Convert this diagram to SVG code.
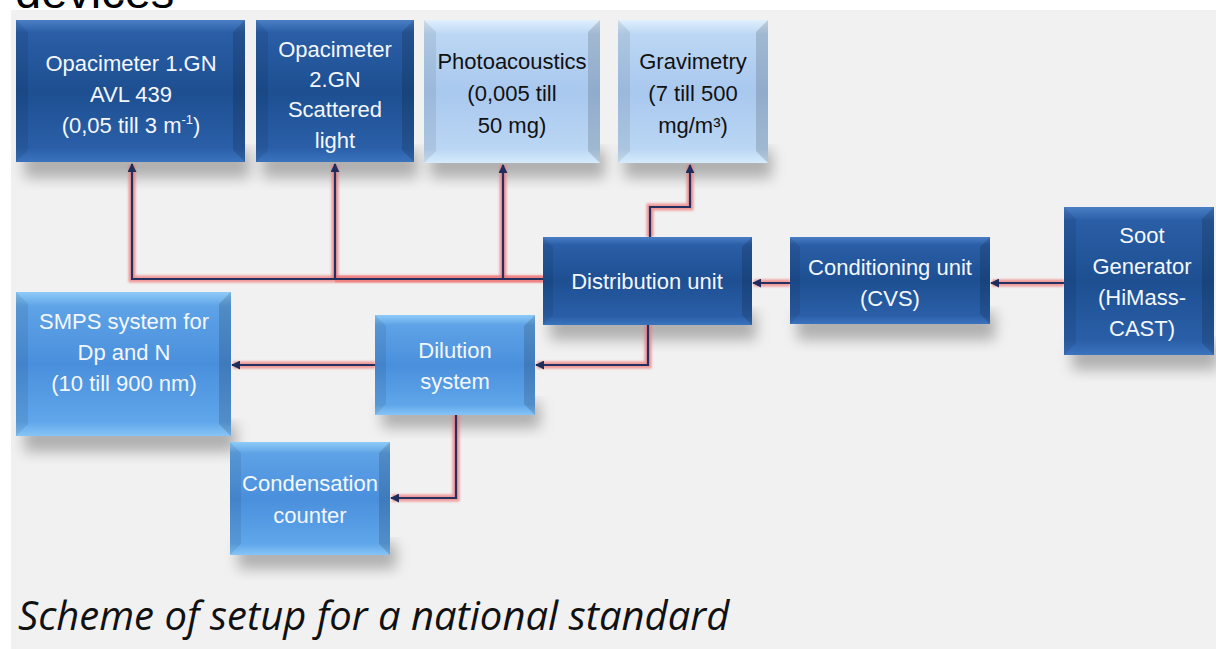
<svg xmlns="http://www.w3.org/2000/svg" width="1216" height="649" viewBox="0 0 1216 649">
<defs>
<style>
.t{font-family:"Liberation Sans",Arial,sans-serif;font-size:22px;text-anchor:middle}
.w{fill:#f4f7ff}
.k{fill:#111}
.halo{fill:none;stroke:#f07a7a;stroke-width:7;stroke-opacity:.75;stroke-linejoin:miter}
.core{fill:none;stroke:#233060;stroke-width:2.2}
.sh{fill:#7a7a7a;opacity:.55}
.sideL{fill:#000;opacity:.08}
.sideR{fill:#000;opacity:.14}
</style>
<linearGradient id="gDark" x1="0" y1="0" x2="0" y2="1">
<stop offset="0" stop-color="#4a7fc6"/><stop offset=".09" stop-color="#2a5ea6"/><stop offset=".5" stop-color="#1d4f91"/><stop offset=".9" stop-color="#2a5fa8"/><stop offset="1" stop-color="#3b73bd"/>
</linearGradient>
<linearGradient id="gMed" x1="0" y1="0" x2="0" y2="1">
<stop offset="0" stop-color="#8ecbf8"/><stop offset=".1" stop-color="#5ea3e6"/><stop offset=".5" stop-color="#4a8fdc"/><stop offset=".9" stop-color="#5fa6ea"/><stop offset="1" stop-color="#86c4f6"/>
</linearGradient>
<linearGradient id="gLight" x1="0" y1="0" x2="0" y2="1">
<stop offset="0" stop-color="#e0f0fd"/><stop offset=".1" stop-color="#bcd7f4"/><stop offset=".5" stop-color="#a9c8ee"/><stop offset=".9" stop-color="#bad6f4"/><stop offset="1" stop-color="#d6ebfc"/>
</linearGradient>
<filter id="blur" x="-20%" y="-20%" width="140%" height="160%"><feGaussianBlur stdDeviation="7"/></filter>
<filter id="hblur" x="-5%" y="-5%" width="110%" height="110%"><feGaussianBlur stdDeviation="1.2"/></filter>
<marker id="ah" viewBox="0 0 10 10" refX="9" refY="5" markerWidth="9" markerHeight="9" markerUnits="userSpaceOnUse" orient="auto">
<path d="M0,0 L10,5 L0,10 z" fill="#1e2d5c"/>
</marker>
</defs>

<rect x="0" y="0" width="1216" height="649" fill="#ffffff"/>
<rect x="11" y="10" width="1205" height="639" fill="#f1f1f1"/>
<text x="15" y="8" font-family="Liberation Sans,Arial,sans-serif" font-size="47" fill="#000">devices</text>

<g id="shadows">
<rect class="sh" x="24" y="150" width="226" height="28" filter="url(#blur)"/>
<rect class="sh" x="262" y="150" width="156" height="28" filter="url(#blur)"/>
<rect class="sh" x="430" y="150" width="175" height="28" filter="url(#blur)"/>
<rect class="sh" x="624" y="150" width="148" height="28" filter="url(#blur)"/>
<rect class="sh" x="550" y="312" width="206" height="28" filter="url(#blur)"/>
<rect class="sh" x="797" y="312" width="198" height="28" filter="url(#blur)"/>
<rect class="sh" x="1072" y="342" width="146" height="28" filter="url(#blur)"/>
<rect class="sh" x="24" y="424" width="212" height="28" filter="url(#blur)"/>
<rect class="sh" x="382" y="402" width="158" height="26" filter="url(#blur)"/>
<rect class="sh" x="238" y="543" width="158" height="26" filter="url(#blur)"/>
</g>

<g id="connectors">
<g filter="url(#hblur)">
<path class="halo" d="M543,279 H132 V165"/>
<path class="halo" d="M335,279 V165"/>
<path class="halo" d="M503,279 V165"/>
<path class="halo" d="M650,237 V207 H690 V165"/>
<path class="halo" d="M790,283 H754"/>
<path class="halo" d="M1064,283 H992"/>
<path class="halo" d="M648,325 V365 H537"/>
<path class="halo" d="M375,365 H233"/>
<path class="halo" d="M456,415 V498 H392"/>
</g>
<path class="halo" d="M543,279 H335" stroke="#f05050" stroke-opacity=".7" stroke-width="6"/>
<path class="core" d="M543,279 H132 V164" marker-end="url(#ah)"/>
<path class="core" d="M335,279 V164" marker-end="url(#ah)"/>
<path class="core" d="M503,279 V165" marker-end="url(#ah)"/>
<path class="core" d="M650,237 V207 H690 V165" marker-end="url(#ah)"/>
<path class="core" d="M790,283 H753" marker-end="url(#ah)"/>
<path class="core" d="M1064,283 H991" marker-end="url(#ah)"/>
<path class="core" d="M648,325 V365 H536" marker-end="url(#ah)"/>
<path class="core" d="M375,365 H232" marker-end="url(#ah)"/>
<path class="core" d="M456,415 V498 H391" marker-end="url(#ah)"/>
</g>

<g id="n-opac1">
<rect x="16" y="20" width="229" height="142" fill="url(#gDark)"/>
<polygon class="sideL" points="16,20 28,32 28,150 16,162"/>
<polygon class="sideR" points="245,20 233,32 233,150 245,162"/>
<text class="t w" x="131" y="71">Opacimeter 1.GN</text>
<text class="t w" x="131" y="102">AVL 439</text>
<text class="t w" x="131" y="133">(0,05 till 3 m<tspan font-size="13" dy="-9">-1</tspan><tspan dy="9">)</tspan></text>
</g>

<g id="n-opac2">
<rect x="256" y="20" width="158" height="142" fill="url(#gDark)"/>
<polygon class="sideL" points="256,20 268,32 268,150 256,162"/>
<polygon class="sideR" points="414,20 402,32 402,150 414,162"/>
<text class="t w" x="335" y="57">Opacimeter</text>
<text class="t w" x="335" y="87">2.GN</text>
<text class="t w" x="335" y="117">Scattered</text>
<text class="t w" x="335" y="148">light</text>
</g>

<g id="n-photo">
<rect x="424" y="20" width="176" height="143" fill="url(#gLight)"/>
<polygon class="sideL" points="424,20 436,32 436,151 424,163"/>
<polygon class="sideR" points="600,20 588,32 588,151 600,163"/>
<text class="t k" x="512" y="69">Photoacoustics</text>
<text class="t k" x="512" y="101">(0,005 till</text>
<text class="t k" x="512" y="133">50 mg)</text>
</g>

<g id="n-grav">
<rect x="618" y="20" width="150" height="143" fill="url(#gLight)"/>
<polygon class="sideL" points="618,20 630,32 630,151 618,163"/>
<polygon class="sideR" points="768,20 756,32 756,151 768,163"/>
<text class="t k" x="693" y="69">Gravimetry</text>
<text class="t k" x="693" y="101">(7 till 500</text>
<text class="t k" x="693" y="133">mg/m³)</text>
</g>

<g id="n-dist">
<rect x="543" y="237" width="209" height="88" fill="url(#gDark)"/>
<polygon class="sideL" points="543,237 553,247 553,315 543,325"/>
<polygon class="sideR" points="752,237 742,247 742,315 752,325"/>
<text class="t w" x="647" y="289">Distribution unit</text>
</g>

<g id="n-cond">
<rect x="790" y="237" width="200" height="87" fill="url(#gDark)"/>
<polygon class="sideL" points="790,237 800,247 800,314 790,324"/>
<polygon class="sideR" points="990,237 980,247 980,314 990,324"/>
<text class="t w" x="890" y="275">Conditioning unit</text>
<text class="t w" x="890" y="306">(CVS)</text>
</g>

<g id="n-soot">
<rect x="1064" y="207" width="150" height="148" fill="url(#gDark)"/>
<polygon class="sideL" points="1064,207 1076,219 1076,343 1064,355"/>
<polygon class="sideR" points="1214,207 1202,219 1202,343 1214,355"/>
<text class="t w" x="1142" y="243">Soot</text>
<text class="t w" x="1142" y="274">Generator</text>
<text class="t w" x="1142" y="305">(HiMass-</text>
<text class="t w" x="1142" y="336">CAST)</text>
</g>

<g id="n-smps">
<rect x="16" y="292" width="215" height="144" fill="url(#gMed)"/>
<polygon class="sideL" points="16,292 28,304 28,424 16,436"/>
<polygon class="sideR" points="231,292 219,304 219,424 231,436"/>
<text class="t w" x="124" y="329">SMPS system for</text>
<text class="t w" x="124" y="360">Dp and N</text>
<text class="t w" x="124" y="391">(10 till 900 nm)</text>
</g>

<g id="n-dil">
<rect x="375" y="315" width="160" height="100" fill="url(#gMed)"/>
<polygon class="sideL" points="375,315 386,326 386,404 375,415"/>
<polygon class="sideR" points="535,315 524,326 524,404 535,415"/>
<text class="t w" x="455" y="358">Dilution</text>
<text class="t w" x="455" y="389">system</text>
</g>

<g id="n-cpc">
<rect x="230" y="442" width="160" height="113" fill="url(#gMed)"/>
<polygon class="sideL" points="230,442 241,453 241,544 230,555"/>
<polygon class="sideR" points="390,442 379,453 379,544 390,555"/>
<text class="t w" x="310" y="491">Condensation</text>
<text class="t w" x="310" y="523">counter</text>
</g>

<text x="18" y="630" font-family="Open Sans,Liberation Sans,sans-serif" font-style="italic" font-size="40" fill="#111">Scheme of setup for a national standard</text>
</svg>
